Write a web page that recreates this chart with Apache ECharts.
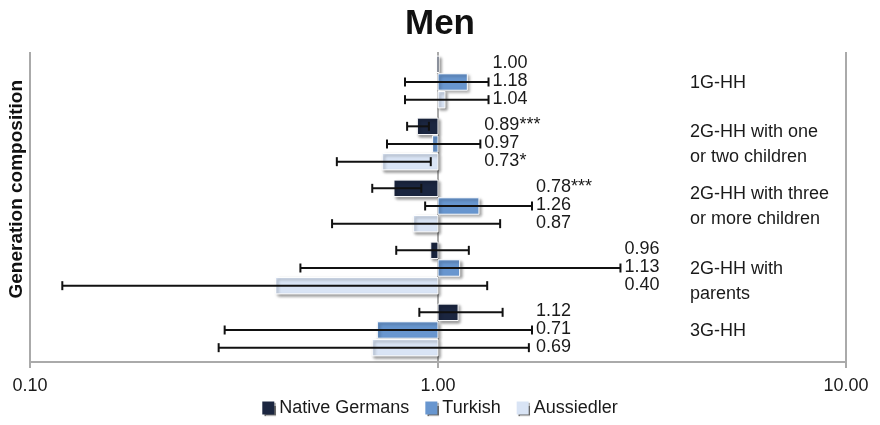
<!DOCTYPE html>
<html>
<head>
<meta charset="utf-8">
<script src="https://cdn.jsdelivr.net/npm/echarts@6/dist/echarts.min.js"></script>
<style>
  html, body { margin: 0; padding: 0; background: #fff; }
  #chart { width: 880px; height: 425px; }
</style>
</head>
<body>
<div id="chart"></div>
<script>
// odds ratios with 95% CI, log scale, reference = 1
const categories = ['1G-HH', '2G-HH with one\nor two children', '2G-HH with three\nor more children', '2G-HH with\nparents', '3G-HH']
const seriesNames = ['Native Germans', 'Turkish', 'Aussiedler']

const nativeOR   = [1.00, 0.89, 0.78, 0.96, 1.12]
const nativeLow  = [1.00, 0.84, 0.69, 0.79, 0.90]
const nativeHigh = [1.00, 0.95, 0.91, 1.19, 1.44]
const nativeSig  = ['', '***', '***', '', '']

const turkishOR   = [1.18, 0.97, 1.26, 1.13, 0.71]
const turkishLow  = [0.83, 0.75, 0.93, 0.46, 0.30]
const turkishHigh = [1.33, 1.27, 1.70, 2.80, 1.70]
const turkishSig  = ['', '', '', '', '']

const aussOR   = [1.04, 0.73, 0.87, 0.40, 0.69]
const aussLow  = [0.83, 0.565, 0.55, 0.12, 0.29]
const aussHigh = [1.33, 0.96, 1.42, 1.32, 1.67]
const aussSig  = ['', '*', '', '', '']

const xTicks = [0.1, 1, 10]

const colors = ['#1b2640', '#6896cf', '#d9e4f5']
const FONT = 'Liberation Sans, Arial, sans-serif'

const groups = [
  { or: nativeOR, lo: nativeLow, hi: nativeHigh, sig: nativeSig },
  { or: turkishOR, lo: turkishLow, hi: turkishHigh, sig: turkishSig },
  { or: aussOR, lo: aussLow, hi: aussHigh, sig: aussSig }
]

function groupMaxHigh(c) {
  return Math.max(...groups.map(g => Math.max(g.hi[c], g.or[c])))
}

function makeRender(s) {
  return function (params, api) {
    const c = api.value(1)
    const v = api.value(0)
    const lo = api.value(2)
    const hi = api.value(3)
    const base = api.coord([1, c])
    const end = api.coord([v, c])
    const band = api.size([1, 1])[1]
    const h = band * 0.265
    const y = base[1] + (s - 1) * band * 0.285 - 1
    let w = Math.abs(end[0] - base[0])
    let x0 = Math.min(end[0], base[0])
    if (w < 2) { w = 2; x0 = base[0] - 1 }
    const children = [{
      type: 'rect',
      shape: { x: x0, y: y - h / 2, width: w, height: h },
      style: {
        fill: colors[s], stroke: '#ffffff', lineWidth: 1,
        shadowBlur: 3, shadowColor: 'rgba(0,0,0,0.4)', shadowOffsetX: 2, shadowOffsetY: 2
      }
    }]
    if (hi > lo) {
      const pl = api.coord([lo, c])[0]
      const ph = api.coord([hi, c])[0]
      const lineStyle = { stroke: '#111', lineWidth: 2 }
      children.push(
        { type: 'line', shape: { x1: pl, y1: y, x2: ph, y2: y }, style: lineStyle },
        { type: 'line', shape: { x1: pl, y1: y - 4.5, x2: pl, y2: y + 4.5 }, style: lineStyle },
        { type: 'line', shape: { x1: ph, y1: y - 4.5, x2: ph, y2: y + 4.5 }, style: lineStyle }
      )
    }
    const lx = api.coord([groupMaxHigh(c), c])[0] + 4
    children.push({
      type: 'text',
      style: {
        x: lx, y: y - 1,
        text: v.toFixed(2) + groups[s].sig[c],
        fill: '#1a1a1a', font: '18px ' + FONT,
        align: 'left', verticalAlign: 'middle'
      }
    })
    return { type: 'group', children }
  }
}

const chart = echarts.init(document.getElementById('chart'))
chart.setOption({
  animation: false,
  title: {
    text: 'Men', left: 'center', top: 2,
    textStyle: { fontFamily: FONT, fontSize: 35, fontWeight: 'bold', color: '#111' }
  },
  legend: {
    bottom: 3, left: 'center',
    itemWidth: 12, itemHeight: 13, itemGap: 16,
    icon: 'rect',
    itemStyle: { shadowColor: 'rgba(0,0,0,0.6)', shadowOffsetX: 1.5, shadowOffsetY: 1.5, shadowBlur: 1 },
    textStyle: { fontFamily: FONT, fontSize: 18, color: '#1a1a1a' },
    data: seriesNames
  },
  grid: { left: 30, right: 34, top: 52, bottom: 63 },
  graphic: [{
    type: 'text', left: 7, top: 80, rotation: Math.PI / 2,
    style: { text: 'Generation composition', font: 'bold 19px ' + FONT, fill: '#111' }
  }],
  xAxis: {
    type: 'log', logBase: 10, min: xTicks[0], max: xTicks[xTicks.length - 1],
    axisLine: { show: true, lineStyle: { color: '#aaa', width: 2 } },
    axisTick: { show: true, length: 6, lineStyle: { color: '#aaa', width: 2 } },
    minorTick: { show: false },
    axisLabel: {
      margin: 15, fontFamily: FONT, fontSize: 18, color: '#1a1a1a',
      formatter: v => Number(v).toFixed(2)
    },
    splitLine: { show: true, lineStyle: { color: '#aaa', width: 2 } }
  },
  yAxis: {
    type: 'category',
    data: categories,
    inverse: true, position: 'right',
    axisLine: { show: false }, axisTick: { show: false }, splitLine: { show: false },
    axisLabel: {
      inside: true, align: 'left', margin: 156,
      fontFamily: FONT, fontSize: 18, lineHeight: 25, color: '#1a1a1a',
      // the "with parents" label sits one line lower in the original
      formatter: (v, i) => i === 3 ? '\n' + v : v
    }
  },
  series: groups.map((g, s) => ({
    name: seriesNames[s],
    type: 'custom',
    itemStyle: { color: colors[s] },
    renderItem: makeRender(s),
    encode: { x: [0, 2, 3], y: 1 },
    data: g.or.map((v, c) => [v, c, g.lo[c], g.hi[c]])
  }))
})
</script>
</body>
</html>
